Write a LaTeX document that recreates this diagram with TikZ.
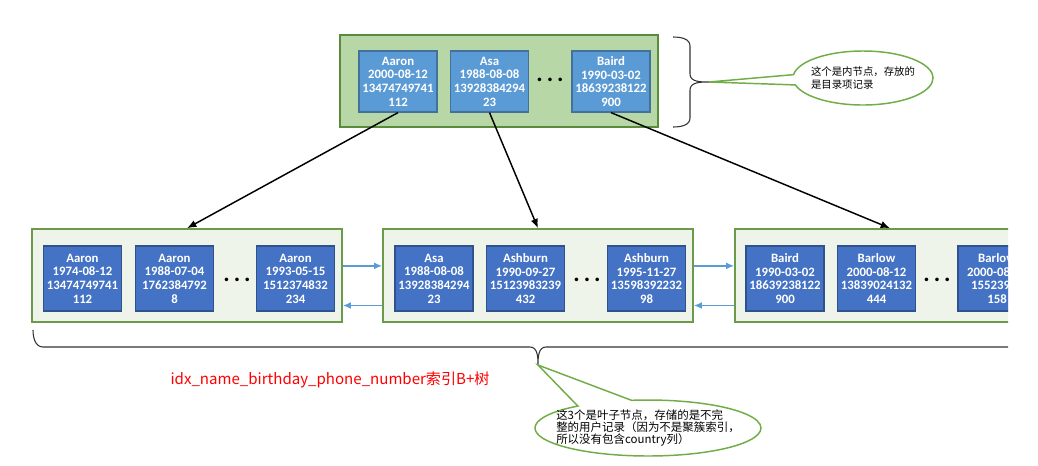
\documentclass[tikz,border=0pt]{standalone}
\usepackage{fontspec}
\setmainfont{Carlito}
\newfontfamily\cjk{Noto Sans CJK SC}
\usetikzlibrary{arrows.meta,shapes.callouts,calc}
\definecolor{topfill}{HTML}{B8D7A6}
\definecolor{topdraw}{HTML}{5A8A3C}
\definecolor{leaffill}{HTML}{EFF4EB}
\definecolor{leafdraw}{HTML}{6A9A4A}
\definecolor{tboxfill}{HTML}{5B9BD5}
\definecolor{tboxdraw}{HTML}{41719C}
\definecolor{lboxfill}{HTML}{4472C4}
\definecolor{lboxdraw}{HTML}{2F528F}
\definecolor{linkblue}{HTML}{5B9BD5}
\definecolor{callgreen}{HTML}{70AD47}
\definecolor{bracegray}{HTML}{333333}
\tikzset{
  outerbox/.style={draw=#1, line width=1.2pt, inner sep=0pt},
  topouter/.style={outerbox=topdraw, fill=topfill, minimum width=238.5pt, minimum height=69pt},
  leafouter/.style={outerbox=leafdraw, fill=leaffill, minimum width=232.5pt, minimum height=69.75pt},
  rec/.style={line width=0.9pt, inner sep=0pt, text=white, align=center, minimum width=58.5pt,
    font=\bfseries\fontsize{9.6}{10.2}\selectfont},
  toprec/.style={rec, draw=tboxdraw, fill=tboxfill, minimum height=45.75pt},
  leafrec/.style={rec, draw=lboxdraw, fill=lboxfill, minimum height=48.75pt},
  dots/.style={inner sep=0pt, font=\bfseries\fontsize{18}{18}\selectfont},
  down/.style={-{Latex[length=7pt,width=5.5pt]}, line width=1.1pt, black},
  link/.style={-{Latex[length=6pt,width=5pt]}, line width=1.1pt, linkblue},
  bracestyle/.style={draw=bracegray, line width=0.8pt},
  callstyle/.style={ellipse callout, draw=callgreen, fill=white, line width=1.1pt},
  calltext/.style={align=left, inner sep=0pt, font=\cjk\fontsize{7.8}{10}\selectfont},
}
\newcommand{\dotrow}{.\hspace{3pt}.\hspace{3pt}.}
\begin{document}
\begin{tikzpicture}[x=0.75pt, y=-0.75pt]
\useasboundingbox (0,0) rectangle (1038,465);
\begin{scope}
\clip (0,0) rectangle (1008,465);
% top internal node
\node[topouter] (top) at (499,81) {};
\node[toprec] (ta) at (398,81.5) {Aaron\\2000-08-12\\13474749741\\112};
\node[toprec] (tb) at (489.5,81.5) {Asa\\1988-08-08\\13928384294\\23};
\node[dots] (td) at (550,80) {\dotrow};
\node[toprec] (tc) at (611,81.5) {Baird\\1990-03-02\\18639238122\\900};
% leaves
\node[leafouter] (l1) at (187,275.5) {};
\node[leafouter] (l2) at (538,275.5) {};
\node[leafouter] (l3) at (890,275.5) {};
\node[leafrec] (a1) at (82.5,278.5) {Aaron\\1974-08-12\\13474749741\\112};
\node[leafrec] (a2) at (174.5,278.5) {Aaron\\1988-07-04\\1762384792\\8};
\node[dots] (ad) at (237,280) {\dotrow};
\node[leafrec] (a3) at (295.5,278.5) {Aaron\\1993-05-15\\1512374832\\234};
\node[leafrec] (b1) at (434,278.5) {Asa\\1988-08-08\\13928384294\\23};
\node[leafrec] (b2) at (525.5,278.5) {Ashburn\\1990-09-27\\15123983239\\432};
\node[dots] (bd) at (587,280) {\dotrow};
\node[leafrec] (b3) at (646.5,278.5) {Ashburn\\1995-11-27\\13598392232\\98};
\node[leafrec] (c1) at (785,278.5) {Baird\\1990-03-02\\18639238122\\900};
\node[leafrec] (c2) at (876.5,278.5) {Barlow\\2000-08-12\\13839024132\\444};
\node[dots] (cd) at (937,280) {\dotrow};
\node[leafrec] (c3) at (997,278.5) {Barlow\\2000-08-12\\15523948\\158};
% pointers
\draw[down] (ta.south) -- (l1.north);
\draw[down] (tb.south) -- (l2.north);
\draw[down] (tc.south) -- (l3.north);
% sibling links
\draw[link] ($(l1.north east)!0.398!(l1.south east)$) -- ($(l2.north west)!0.398!(l2.south west)$);
\draw[link] ($(l2.north west)!0.817!(l2.south west)$) -- ($(l1.north east)!0.817!(l1.south east)$);
\draw[link] ($(l2.north east)!0.398!(l2.south east)$) -- ($(l3.north west)!0.398!(l3.south west)$);
\draw[link] ($(l3.north west)!0.817!(l3.south west)$) -- ($(l2.north east)!0.817!(l2.south east)$);
% braces
\coordinate (tbr1) at (673,37);
\coordinate (tbrtip) at (709,82);
\coordinate (tbr2) at (673,127);
\draw[bracestyle] (tbr1) to[out=0,in=90] (690,46) -- (690,74) to[out=-90,in=180] (tbrtip)
  to[out=180,in=90] (690,90) -- (690,118) to[out=-90,in=0] (tbr2);
\coordinate (bbr1) at (33,330);
\coordinate (bbrtip) at (538,365);
\coordinate (bbr2) at (1043,330);
\draw[bracestyle] (bbr1) to[out=-90,in=180] (43,347) -- (530,347) to[out=0,in=90] (bbrtip)
  to[out=90,in=180] (546,347) -- (1033,347) to[out=0,in=-90] (bbr2);
\end{scope}
% callouts
\node[callstyle, minimum width=105pt, minimum height=40.5pt, callout absolute pointer={(tbrtip)}, callout pointer arc=22] (call1) at (863,78) {};
\node[calltext] (call1t) at (call1.center) {这个是内节点，存放的\\是目录项记录};
\node[callstyle, minimum width=169.5pt, minimum height=42pt, callout absolute pointer={(bbrtip)}, callout pointer arc=30] (call2) at (648,428) {};
\node[calltext, font=\cjk\fontsize{8.6}{9.2}\selectfont] (call2t) at (call2.center) {这3个是叶子节点，存储的是不完\\整的用户记录（因为不是聚簇索引，\\所以没有包含country列）};
% title
\node[text=red, inner sep=0pt, font=\cjk\fontsize{11.3}{12}\selectfont] (title) at (330,380) {idx\_name\_birthday\_phone\_number索引B+树};
\end{tikzpicture}
\end{document}
